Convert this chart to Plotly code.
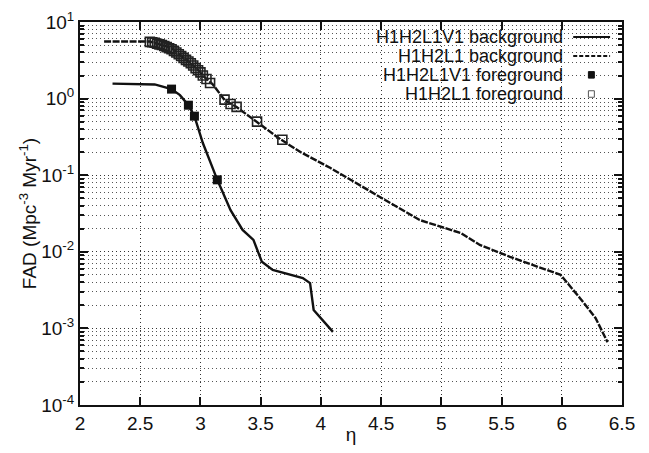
import plotly.graph_objects as go

# H1H2L1V1 background (solid)
v1_bg_eta = [2.27, 2.62, 2.76, 2.83, 2.90, 2.95, 3.02, 3.14, 3.25, 3.35, 3.44, 3.48, 3.51, 3.60, 3.85, 3.91, 3.94, 4.10]
v1_bg_fad = [1.57, 1.53, 1.33, 1.11, 0.82, 0.59, 0.263, 0.087, 0.035, 0.0193, 0.0143, 0.0099, 0.0074, 0.0058, 0.00455, 0.0039, 0.00174, 0.0009]

# H1H2L1 background (dashed)
l1_bg_eta = [2.20, 2.58, 2.68, 2.76, 2.85, 2.91, 2.98, 3.04, 3.10, 3.20, 3.30, 3.47, 3.66, 3.83, 4.08, 4.49, 4.82, 5.16, 5.32, 5.57, 5.99, 6.15, 6.28, 6.38]
l1_bg_fad = [5.56, 5.56, 5.01, 4.58, 3.52, 3.0, 2.36, 1.86, 1.55, 0.96, 0.776, 0.495, 0.297, 0.201, 0.124, 0.052, 0.026, 0.0176, 0.0123, 0.0086, 0.005, 0.0025, 0.00137, 0.00066]

# H1H2L1V1 foreground (filled squares)
v1_fg_eta = [2.76, 2.90, 2.95, 3.14]
v1_fg_fad = [1.33, 0.82, 0.59, 0.087]

# H1H2L1 foreground (open squares)
l1_fg_eta = [2.58, 2.60, 2.62, 2.64, 2.66, 2.68, 2.70, 2.72, 2.74, 2.76, 2.78, 2.80, 2.82, 2.84, 2.86,
             2.88, 2.90, 2.92, 2.94, 2.96, 2.98, 3.00, 3.02, 3.05, 3.08, 3.20, 3.25, 3.30, 3.47, 3.68]
l1_fg_fad = [5.5, 5.45, 5.35, 5.2, 5.1, 5.0, 4.85, 4.7, 4.55, 4.4, 4.2, 4.0, 3.8, 3.6, 3.4,
             3.2, 3.05, 2.9, 2.7, 2.5, 2.35, 2.2, 2.0, 1.8, 1.6, 0.97, 0.85, 0.78, 0.50, 0.29]

x_ticks = [2, 2.5, 3, 3.5, 4, 4.5, 5, 5.5, 6, 6.5]
x_tick_text = ["2", "2.5", "3", "3.5", "4", "4.5", "5", "5.5", "6", "6.5"]
y_ticks = [1e-4, 1e-3, 1e-2, 1e-1, 1e0, 1e1]
y_tick_text = ["10<sup>-4</sup>", "10<sup>-3</sup>", "10<sup>-2</sup>", "10<sup>-1</sup>", "10<sup>0</sup>", "10<sup>1</sup>"]

legend_labels = ["H1H2L1V1 background", "H1H2L1 background", "H1H2L1V1 foreground", "H1H2L1 foreground"]

FONT = "Liberation Sans, Arial, Helvetica, sans-serif"
INK = "#111"

fig = go.Figure()
fig.add_trace(go.Scatter(x=v1_bg_eta, y=v1_bg_fad, mode="lines",
                         line=dict(color=INK, width=2.4), name=legend_labels[0], showlegend=False))
fig.add_trace(go.Scatter(x=l1_bg_eta, y=l1_bg_fad, mode="lines",
                         line=dict(color=INK, width=2.4, dash="7px,1.5px"), name=legend_labels[1], showlegend=False))
fig.add_trace(go.Scatter(x=v1_fg_eta, y=v1_fg_fad, mode="markers",
                         marker=dict(symbol="square", size=9, color=INK), name=legend_labels[2], showlegend=False))
fig.add_trace(go.Scatter(x=l1_fg_eta, y=l1_fg_fad, mode="markers",
                         marker=dict(symbol="square-open", size=9, color="#222", line=dict(width=1.6)),
                         name=legend_labels[3], showlegend=False))

# custom legend (text right-aligned, sample on the right, like gnuplot)
rows_y = [0.961, 0.911, 0.862, 0.812]
for lab, yy in zip(legend_labels, rows_y):
    fig.add_annotation(x=0.895, y=yy, xref="paper", yref="paper", text=lab, showarrow=False,
                       xanchor="right", yanchor="middle", font=dict(family=FONT, size=18, color=INK))
shapes = [
    dict(type="line", xref="paper", yref="paper", x0=0.910, x1=0.978, y0=rows_y[0], y1=rows_y[0],
         line=dict(color=INK, width=2)),
    dict(type="line", xref="paper", yref="paper", x0=0.910, x1=0.978, y0=rows_y[1], y1=rows_y[1],
         line=dict(color=INK, width=2, dash="4px,2px")),
    dict(type="rect", xref="paper", yref="paper", x0=0.938, x1=0.949, y0=rows_y[2] - 0.0085, y1=rows_y[2] + 0.0085,
         line=dict(color=INK, width=1), fillcolor=INK),
    dict(type="rect", xref="paper", yref="paper", x0=0.938, x1=0.949, y0=rows_y[3] - 0.0085, y1=rows_y[3] + 0.0085,
         line=dict(color="#555", width=1)),
]

GRID = dict(showgrid=True, gridcolor="#333", griddash="1px,3px", gridwidth=1)

fig.update_layout(
    width=641, height=437,
    margin=dict(l=72, r=27, t=14, b=40),
    paper_bgcolor="white", plot_bgcolor="white",
    font=dict(family=FONT, size=19, color=INK),
    shapes=shapes,
    showlegend=False,
)
fig.update_xaxes(
    range=[2, 6.5], tickvals=x_ticks, ticktext=x_tick_text, automargin=False,
    ticks="inside", ticklen=8, tickwidth=1.5, tickcolor=INK,
    showline=True, linecolor=INK, linewidth=2, mirror="allticks",
    zeroline=False,
    title=dict(text="η", standoff=0, font=dict(family=FONT, size=19)),
    tickfont=dict(family=FONT, size=19),
    **GRID,
)
fig.update_yaxes(
    type="log", range=[-4, 1], tickvals=y_ticks, ticktext=y_tick_text, automargin=False,
    ticks="inside", ticklen=8, tickwidth=1.5, tickcolor=INK,
    showline=True, linecolor=INK, linewidth=2, mirror="allticks",
    minor=dict(dtick="D1", ticks="inside", ticklen=4, tickcolor=INK, showgrid=True,
               gridcolor="#555", griddash="1px,3px", gridwidth=1),
    zeroline=False,
    title=dict(text="FAD (Mpc<sup>-3</sup> Myr<sup>-1</sup>)", standoff=0, font=dict(family=FONT, size=19)),
    tickfont=dict(family=FONT, size=19),
    **GRID,
)

fig.write_html("out.html")
